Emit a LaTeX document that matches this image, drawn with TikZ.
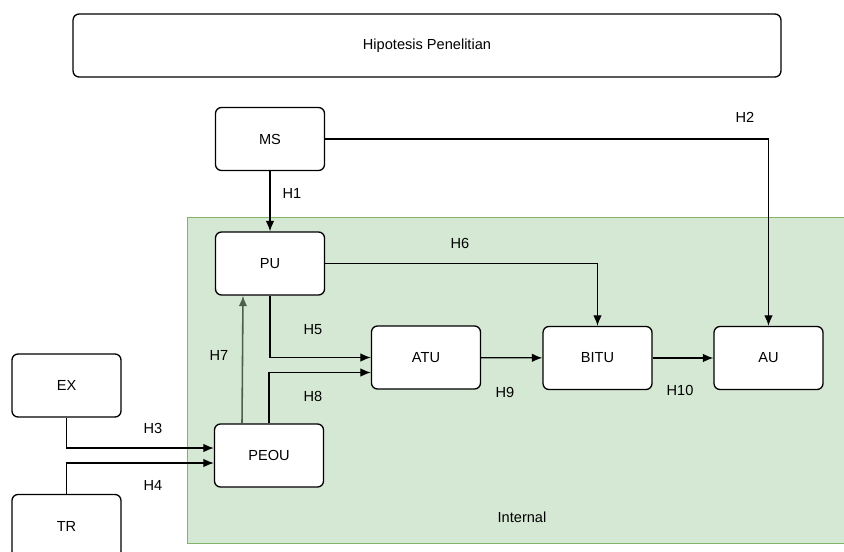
\documentclass[tikz,border=0pt]{standalone}
\usepackage{fontspec}
\setmainfont{Liberation Sans}
\usetikzlibrary{arrows.meta}
\definecolor{intfill}{RGB}{213,232,212}
\definecolor{intline}{RGB}{130,179,102}
\definecolor{hseven}{RGB}{80,94,78}
\tikzset{
    varbox/.style={draw,rounded corners=0.12cm,fill=white,line width=0.75pt,
        minimum width=2.18cm,minimum height=1.26cm,font=\fontsize{8.3}{10}\selectfont},
    hlabel/.style={font=\fontsize{8.3}{10}\selectfont}
}

\begin{document}
\begin{tikzpicture}[>={Latex[length=2.1mm,width=1.7mm]},x=0.02cm,y=-0.02cm,line width=0.7pt]
\clip (0,0) rectangle (844,551);
\fill[white] (0,0) rectangle (844,551);
% area internal
\draw[fill=intfill,draw=intline,line width=0.5pt] (187,217) rectangle (850,543);
\node[hlabel] (internal) at (522,517) {Internal};
\node[varbox,minimum width=14.16cm] (judul) at (427,45.5) {Hipotesis Penelitian};
% variabel
\node[varbox] (MS) at (270,139) {MS};
\node[varbox] (PU) at (270,263.5) {PU};
\node[varbox] (PEOU) at (269,455.5) {PEOU};
\node[varbox] (EX) at (66.5,385.5) {EX};
\node[varbox] (TR) at (66.5,526) {TR};
\node[varbox] (ATU) at (426,357.5) {ATU};
\node[varbox] (BITU) at (597.5,358) {BITU};
\node[varbox] (AU) at (768.5,358) {AU};
% hubungan
\draw[->] (MS) -- (PU);
\draw[->] (MS.east) -| (AU.north);
\draw[->] (PU.east) -| (BITU.north);
\draw[->] (PU.south) |- (ATU.west);
\draw[->] (PEOU.north) |- ([yshift=-0.3cm]ATU.west);
\draw[->,hseven,line width=0.9pt] ([xshift=-0.54cm]PEOU.north) -- ([xshift=-0.54cm]PU.south);
\draw[->] (EX.south) |- ([yshift=0.15cm]PEOU.west);
\draw[->] (TR.north) |- ([yshift=-0.15cm]PEOU.west);
\draw[->] (ATU) -- (BITU);
\draw[->] (BITU) -- (AU);
% label hipotesis
\foreach \h/\x/\y in {H1/292/193, H2/745/117, H3/153/428, H4/153/485, H5/313/330,
    H6/460/243, H7/219/355, H8/313/396, H9/505/392, H10/680/390}
    \node[hlabel] (lbl\h) at (\x,\y) {\h};
\end{tikzpicture}
\end{document}
